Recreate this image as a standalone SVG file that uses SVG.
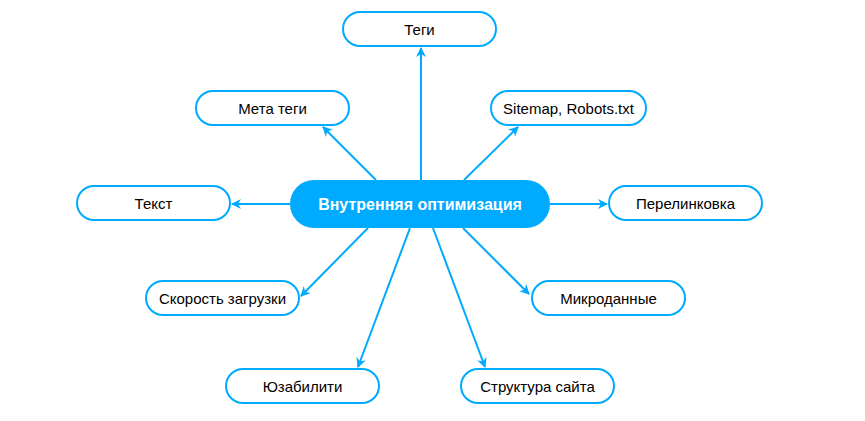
<svg xmlns="http://www.w3.org/2000/svg" width="865" height="421" viewBox="0 0 865 421">
<style>
.n rect{fill:#fff;stroke:#00aaff;stroke-width:2}
.n text{font-family:"Liberation Sans",Arial,sans-serif;font-size:15px;fill:#000;text-anchor:middle;dominant-baseline:central}
#edges line{stroke:#00aaff;stroke-width:2;marker-end:url(#a)}
</style>
<defs><marker id="a" viewBox="0 0 10 10" refX="9" refY="5" markerWidth="5" markerHeight="5" orient="auto" markerUnits="strokeWidth"><path d="M0,0 L10,5 L0,10 L3,5 z" fill="#00aaff"/></marker></defs>
<rect width="865" height="421" fill="#fff"/>
<g id="edges">
<line x1="421" y1="180" x2="421" y2="48"/>
<line x1="376" y1="180" x2="323" y2="127"/>
<line x1="464" y1="180" x2="518" y2="127"/>
<line x1="290" y1="204" x2="232" y2="204"/>
<line x1="550" y1="204" x2="607" y2="204"/>
<line x1="368" y1="228" x2="301" y2="296"/>
<line x1="463" y1="228" x2="529" y2="294"/>
<line x1="410" y1="228" x2="358" y2="367"/>
<line x1="433" y1="228" x2="485" y2="367"/>
</g>
<g id="center"><rect x="290" y="180" width="260" height="48" rx="24" fill="#00aaff"/><text x="420" y="204" font-family="Liberation Sans,Arial,sans-serif" font-size="16" font-weight="bold" fill="#fff" text-anchor="middle" dominant-baseline="central">Внутренняя оптимизация</text></g>
<g id="n1" class="n"><rect x="343" y="12" width="153" height="34" rx="17"/><text x="419.5" y="29">Теги</text></g>
<g id="n2" class="n"><rect x="196" y="91" width="153" height="34" rx="17"/><text x="272.5" y="108">Мета теги</text></g>
<g id="n3" class="n"><rect x="491" y="91" width="155" height="34" rx="17"/><text x="568.5" y="108">Sitemap, Robots.txt</text></g>
<g id="n4" class="n"><rect x="77" y="186" width="153" height="34" rx="17"/><text x="153.5" y="203">Текст</text></g>
<g id="n5" class="n"><rect x="609" y="186" width="153" height="34" rx="17"/><text x="685.5" y="203">Перелинковка</text></g>
<g id="n6" class="n"><rect x="146" y="281" width="153" height="34" rx="17"/><text x="222.5" y="298">Скорость загрузки</text></g>
<g id="n7" class="n"><rect x="532" y="281" width="153" height="34" rx="17"/><text x="608.5" y="298">Микроданные</text></g>
<g id="n8" class="n"><rect x="226" y="369" width="153" height="34" rx="17"/><text x="302.5" y="386">Юзабилити</text></g>
<g id="n9" class="n"><rect x="461" y="369" width="153" height="34" rx="17"/><text x="537.5" y="386">Структура сайта</text></g>
</svg>
